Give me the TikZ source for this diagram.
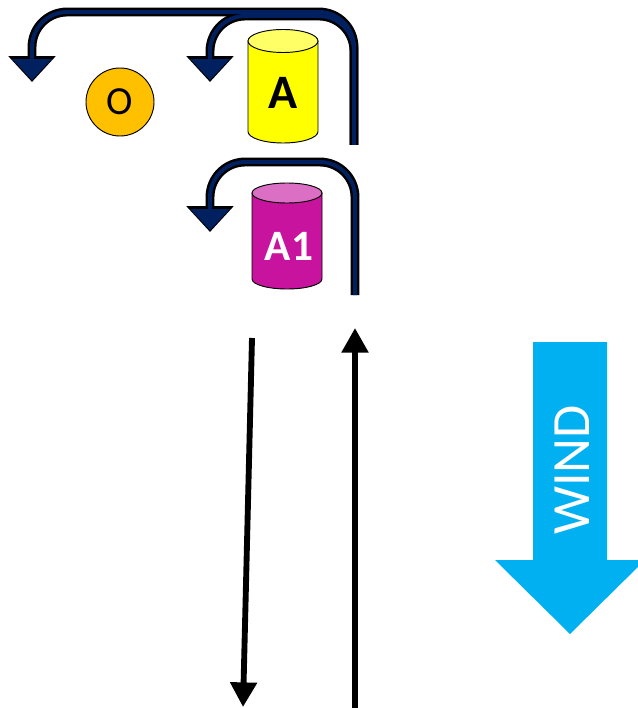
\documentclass[tikz,border=0pt]{standalone}
\usepackage{fontspec}
\setmainfont{Carlito}
\usepackage{tikz}
\usetikzlibrary{positioning,shapes,arrows.meta}
\definecolor{navy}{HTML}{002060}
\definecolor{windblue}{HTML}{00B0F0}
\definecolor{tankyellow}{HTML}{FFFF00}
\definecolor{capyellow}{HTML}{FFFF66}
\definecolor{tankpink}{HTML}{C8139E}
\definecolor{cappink}{HTML}{DA6FC4}
\definecolor{ballorange}{HTML}{FFC000}

\begin{document}
\begin{tikzpicture}[x=0.03cm,y=-0.03cm]
    \tikzstyle{tank} = [draw, line width=0.8pt]
    \tikzstyle{rim} = [draw=black, line width=7.6pt, rounded corners=30pt,
    -{Triangle[length=22pt,width=39pt]}]
    \tikzstyle{core} = [draw=navy, line width=3.4pt, rounded corners=30pt,
    shorten >=1.6pt, -{Triangle[length=18pt,width=33pt]}]
    \tikzstyle{stem} = [line width=5pt, -{Triangle[length=21pt,width=22pt]}]
    \useasboundingbox (0,0) rectangle (637,708);
    % tanks and ball
    \node[circle, draw, line width=0.8pt, fill=ballorange, minimum
    size=2.04cm, font=\fontsize{34}{34}\selectfont] (o) at (120,102) {O};
    \filldraw[tank, fill=tankyellow] (248,41) -- (248,131.5)
    arc (180:0:35 and 11.5) -- (318,41) -- cycle;
    \filldraw[tank, fill=capyellow] (283,41) ellipse (35 and 11.5);
    \node[font=\fontsize{41}{41}\selectfont\bfseries] (a) at (283,93) {A};
    \filldraw[tank, fill=tankpink] (252,193) -- (252,279)
    arc (180:0:35 and 10) -- (322,193) -- cycle;
    \filldraw[tank, fill=cappink] (287,193) ellipse (35 and 10);
    \node[font=\fontsize{37}{37}\selectfont\bfseries, text=white] (a1)
    at (289,246) {A1};
    % flow paths
    \coordinate (topfoot) at (354,145);
    \coordinate (leftend) at (32,82);
    \coordinate (midend) at (210,82);
    \coordinate (lowfoot) at (355,295);
    \coordinate (lowend) at (210,232);
    \draw[rim] (topfoot) -- (354,12) -- (32,12) -- (leftend);
    \draw[rim] (topfoot) -- (354,16) -- (210,16) -- (midend);
    \draw[rim] (lowfoot) -- (355,162) -- (210,162) -- (lowend);
    \draw[core] (topfoot) -- (354,12) -- (32,12) -- (leftend);
    \draw[core] (topfoot) -- (354,16) -- (210,16) -- (midend);
    \draw[core] (lowfoot) -- (355,162) -- (210,162) -- (lowend);
    % long stems
    \coordinate (downtop) at (252,338);
    \coordinate (downtip) at (243,707);
    \coordinate (upfoot) at (355,708);
    \coordinate (uptip) at (355,328);
    \draw[stem] (downtop) -- (downtip);
    \draw[stem] (upfoot) -- (uptip);
    % wind
    \fill[windblue] (533,342) -- (607,342) -- (607,560) -- (645,560) --
    (570,634) -- (495,560) -- (533,560) -- cycle;
    \node[rotate=90, text=white, font=\fontsize{46}{46}\selectfont] (wind)
    at (572,470) {WIND};
\end{tikzpicture}
\end{document}
